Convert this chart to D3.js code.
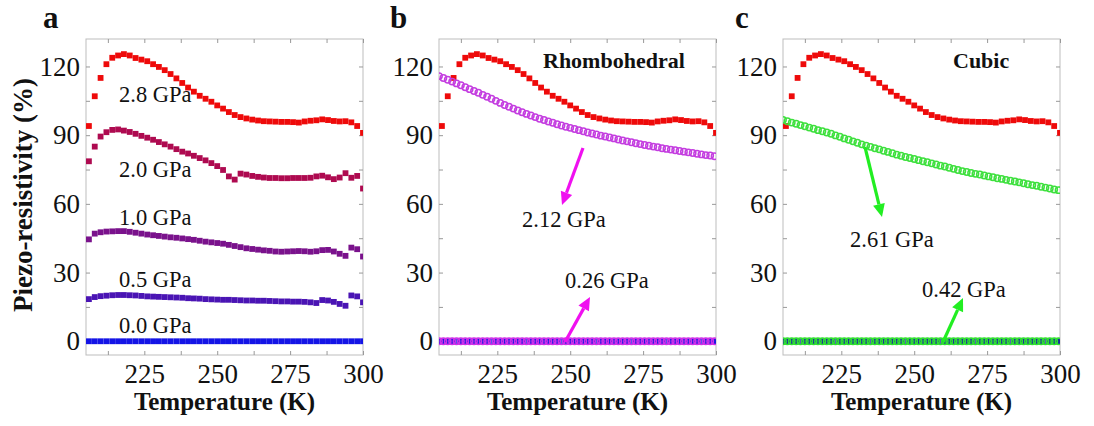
<!DOCTYPE html>
<html><head><meta charset="utf-8">
<script src="https://cdn.jsdelivr.net/npm/d3@7"></script>
<style>
body{margin:0;background:#fff;}
svg{display:block;}
text{font-family:"Liberation Serif","Times New Roman",serif;fill:#111;}
</style></head>
<body>
<svg id="chart" width="1094" height="426"></svg>
<script>
// ---------- data ----------
const temps = [206,208,210,212,214,216,218,220,222,224,226,228,230,232,234,236,238,240,242,244,246,248,250,252,254,256,258,260,262,264,266,268,270,272,274,276,278,280,282,284,286,288,290,292,294,296,298,300];
const p28 = [94,107,115,121,123.8,124.8,125.4,124.8,123.7,123,122.3,121,119.8,118.4,116.7,114.8,112.8,110.8,109,107.2,105.9,104.6,103,101.6,100.1,98.8,97.9,97.3,96.8,96.4,96.1,96,95.9,95.8,95.8,95.7,95.5,96,96.3,96.5,96.9,96.6,96.2,96,96.1,95.6,94,91];
const p20 = [78.6,85,89.4,91.3,92.3,92.5,92,91.4,90.6,89.7,88.9,88,87,86,85,83.9,82.8,82,81,80,79,77.8,76.5,74.8,72,70.6,73.2,72.8,72.2,71.8,71.5,71.3,71.3,71.2,71.2,71.3,71.3,71.3,71.4,72,72.3,71.6,70.8,71.5,73.4,71.4,72.2,66.7];
const p10 = [44.5,47,47.6,47.9,48,48.1,48.1,47.8,47.4,47,46.6,46.3,46,45.7,45.4,45.2,44.9,44.6,44.3,43.9,43.5,43.2,42.9,42.6,42.1,41.6,41.1,40.6,40.3,40,39.7,39.5,39.2,39.1,39.2,39.3,39.4,39.3,39.1,39.3,39.8,39.9,39.2,38.2,37.3,40.9,40.2,37];
const p05 = [18.4,19.3,19.7,19.9,20.1,20.2,20.2,20.1,20,19.8,19.6,19.5,19.4,19.3,19.2,19.1,19,18.8,18.7,18.6,18.4,18.3,18.2,18.1,18.1,18,17.9,17.8,17.8,17.7,17.7,17.6,17.5,17.4,17.4,17.3,17.3,17.2,17,16.7,18,17.8,17.2,16.3,15.5,20,19.6,17];
const p00 = [0,0,0,0,0,0,0,0,0,0,0,0,0,0,0,0,0,0,0,0,0,0,0,0,0,0,0,0,0,0,0,0,0,0,0,0,0,0,0,0,0,0,0,0,0,0,0,0];

const fitTemps = [205,206.5,208,209.5,211,212.5,214,215.5,217,218.5,220,221.5,223,224.5,226,227.5,229,230.5,232,233.5,235,236.5,238,239.5,241,242.5,244,245.5,247,248.5,250,251.5,253,254.5,256,257.5,259,260.5,262,263.5,265,266.5,268,269.5,271,272.5,274,275.5,277,278.5,280,281.5,283,284.5,286,287.5,289,290.5,292,293.5,295,296.5,298,299.5];
const rho212 = [115.8,115.0,114.2,113.4,112.6,111.8,110.9,110.1,109.3,108.5,107.6,106.8,105.9,105.0,104.1,103.2,102.4,101.6,100.8,100.0,99.3,98.6,97.9,97.2,96.6,96.0,95.4,94.8,94.2,93.7,93.2,92.7,92.2,91.7,91.2,90.7,90.3,89.8,89.4,89.0,88.6,88.1,87.7,87.3,86.9,86.5,86.1,85.7,85.4,85.0,84.7,84.3,84.0,83.7,83.4,83.1,82.8,82.5,82.2,81.9,81.6,81.3,81.1,80.8];
const rho026 = [0,0,0,0,0,0,0,0,0,0,0,0,0,0,0,0,0,0,0,0,0,0,0,0,0,0,0,0,0,0,0,0,0,0,0,0,0,0,0,0,0,0,0,0,0,0,0,0,0,0,0,0,0,0,0,0,0,0,0,0,0,0,0,0];
const cub261 = [96.7,96.1,95.5,95.0,94.4,93.9,93.3,92.8,92.2,91.7,91.2,90.6,89.9,89.3,88.6,88.0,87.3,86.7,86.0,85.4,84.9,84.3,83.8,83.2,82.7,82.1,81.5,81.0,80.5,80.0,79.6,79.1,78.6,78.2,77.7,77.2,76.7,76.3,75.8,75.3,74.8,74.3,73.9,73.5,73.1,72.8,72.4,72.0,71.6,71.2,70.9,70.5,70.1,69.8,69.4,69.0,68.6,68.2,67.9,67.5,67.1,66.7,66.3,66.0];
const cub042 = [0,0,0,0,0,0,0,0,0,0,0,0,0,0,0,0,0,0,0,0,0,0,0,0,0,0,0,0,0,0,0,0,0,0,0,0,0,0,0,0,0,0,0,0,0,0,0,0,0,0,0,0,0,0,0,0,0,0,0,0,0,0,0,0];

const xTickLabels = [225,250,275,300];
const xTicksAll = [212.5,225,237.5,250,262.5,275,287.5,300];
const yTickLabels = [0,30,60,90,120];
const yTicksAll = [0,15,30,45,60,75,90,105,120];
const panelLetters = ["a","b","c"];

// ---------- layout ----------
const svg = d3.select("#chart");
const plotTop = 39, plotBottom = 355, pw = 277;
const lefts = [86, 439, 783];
const y = d3.scaleLinear().domain([-6,132]).range([plotBottom, plotTop]);

const panels = [
  {
    squares: [
      {vals:p28, color:"#ee0a0a"},
      {vals:p20, color:"#ae0a50"},
      {vals:p10, color:"#7a128c"},
      {vals:p05, color:"#4a14b4"},
      {vals:p00, color:"#1414e6"}
    ],
    circles: [],
    labels: [
      {t:"2.8 GPa", x:33, y:102}, {t:"2.0 GPa", x:33, y:177},
      {t:"1.0 GPa", x:33, y:225}, {t:"0.5 GPa", x:33, y:287},
      {t:"0.0 GPa", x:33, y:333}
    ],
    title:null, arrows:[]
  },
  {
    squares: [{vals:p28, color:"#ee0a0a"},{vals:p00, color:"#1a1ae0"}],
    circles: [{vals:rho212, color:"#c43ee0"},{vals:rho026, color:"#d030e8"}],
    labels: [{t:"2.12 GPa", x:83, y:227},{t:"0.26 GPa", x:126, y:288}],
    title:{t:"Rhombohedral", x:104, y:68},
    arrowColor:"#f010f0",
    arrows:[{x1:144,y1:148,x2:123,y2:205},{x1:126,y1:342,x2:151,y2:297}]
  },
  {
    squares: [{vals:p28, color:"#ee0a0a"},{vals:p00, color:"#1a2aa0"}],
    circles: [{vals:cub261, color:"#3ee03e"},{vals:cub042, color:"#30e030"}],
    labels: [{t:"2.61 GPa", x:67, y:247},{t:"0.42 GPa", x:139, y:297}],
    title:{t:"Cubic", x:170, y:68},
    arrowColor:"#22ee22",
    arrows:[{x1:82,y1:147,x2:99,y2:217},{x1:160,y1:342,x2:180,y2:298}]
  }
];

const defs = svg.append("defs");

panels.forEach((p, i) => {
  const L = lefts[i];
  const x = d3.scaleLinear().domain([205,300]).range([L, L+pw]);
  const g = svg.append("g");

  defs.append("clipPath").attr("id","clip"+i)
    .append("rect").attr("x",L).attr("y",plotTop).attr("width",pw).attr("height",plotBottom-plotTop);

  // frame
  g.append("rect").attr("x",L).attr("y",plotTop).attr("width",pw).attr("height",plotBottom-plotTop)
    .attr("fill","none").attr("stroke","#bdbdbd").attr("stroke-width",1);

  // ticks (inward) via axes
  const tickStyle = sel => { sel.select(".domain").remove(); sel.selectAll("line").attr("stroke","#999"); sel.selectAll("text").remove(); };
  g.append("g").attr("transform",`translate(0,${plotBottom})`).call(d3.axisBottom(x).tickValues(xTicksAll).tickSizeInner(-4).tickSizeOuter(0)).call(tickStyle);
  g.append("g").attr("transform",`translate(0,${plotTop})`).call(d3.axisTop(x).tickValues(xTicksAll).tickSizeInner(-4).tickSizeOuter(0)).call(tickStyle);
  g.append("g").attr("transform",`translate(${L},0)`).call(d3.axisLeft(y).tickValues(yTicksAll).tickSizeInner(-4).tickSizeOuter(0)).call(tickStyle);
  g.append("g").attr("transform",`translate(${L+pw},0)`).call(d3.axisRight(y).tickValues(yTicksAll).tickSizeInner(-4).tickSizeOuter(0)).call(tickStyle);

  // tick labels via axes
  const xa = g.append("g").attr("transform",`translate(0,${plotBottom})`)
    .call(d3.axisBottom(x).tickValues(xTickLabels).tickSize(0).tickPadding(9).tickFormat(d3.format("d")));
  xa.select(".domain").remove();
  xa.selectAll("text").attr("font-size",27).attr("font-family","Liberation Serif").attr("fill","#111");
  const ya = g.append("g").attr("transform",`translate(${L},0)`)
    .call(d3.axisLeft(y).tickValues(yTickLabels).tickSize(0).tickPadding(6).tickFormat(d3.format("d")));
  ya.select(".domain").remove();
  ya.selectAll("text").attr("font-size",27).attr("font-family","Liberation Serif").attr("fill","#111");

  // x title
  g.append("text").attr("x",L+pw/2).attr("y",410).attr("text-anchor","middle")
    .attr("font-size",25).attr("font-weight","bold").text("Temperature (K)");

  // panel letter
  g.append("text").attr("x",[43,390,735][i]).attr("y",28)
    .attr("font-size",31).attr("font-weight","bold").text(panelLetters[i]);

  // data
  const dg = g.append("g").attr("clip-path",`url(#clip${i})`);
  const s = 5.8;
  p.squares.forEach(ser => {
    dg.append("g").selectAll("rect").data(ser.vals.map((v,k)=>[temps[k],v])).join("rect")
      .attr("x",d=>x(d[0])-s/2).attr("y",d=>y(d[1])-s/2)
      .attr("width",s).attr("height",s).attr("fill",ser.color);
  });
  p.circles.forEach(ser => {
    dg.append("g").selectAll("circle").data(ser.vals.map((v,k)=>[fitTemps[k],v])).join("circle")
      .attr("cx",d=>x(d[0])).attr("cy",d=>y(d[1])).attr("r",3.2)
      .attr("fill","none").attr("stroke",ser.color).attr("stroke-width",1.5);
  });

  // labels
  p.labels.forEach(l => {
    g.append("text").attr("x",L+l.x).attr("y",l.y).attr("font-size",22.5).text(l.t);
  });
  if (p.title) {
    g.append("text").attr("x",L+p.title.x).attr("y",p.title.y).attr("font-size",22)
      .attr("font-weight","bold").text(p.title.t);
  }
  // arrows
  p.arrows.forEach(a => {
    const x1=L+a.x1, x2=L+a.x2;
    const dx=x2-x1, dy=a.y2-a.y1, len=Math.hypot(dx,dy);
    const ux=dx/len, uy=dy/len, hl=13, hw=6;
    const bx=x2-ux*hl, by=a.y2-uy*hl;
    g.append("line").attr("x1",x1).attr("y1",a.y1).attr("x2",bx).attr("y2",by)
      .attr("stroke",p.arrowColor).attr("stroke-width",3.2);
    g.append("path").attr("d",`M${x2},${a.y2}L${bx-uy*hw},${by+ux*hw}L${bx+uy*hw},${by-ux*hw}Z`)
      .attr("fill",p.arrowColor);
  });
});

// y title
svg.append("text").attr("transform","translate(32,195) rotate(-90)").attr("text-anchor","middle")
  .attr("font-size",27).attr("font-weight","bold").text("Piezo-resistivity (%)");
</script>
</body></html>
